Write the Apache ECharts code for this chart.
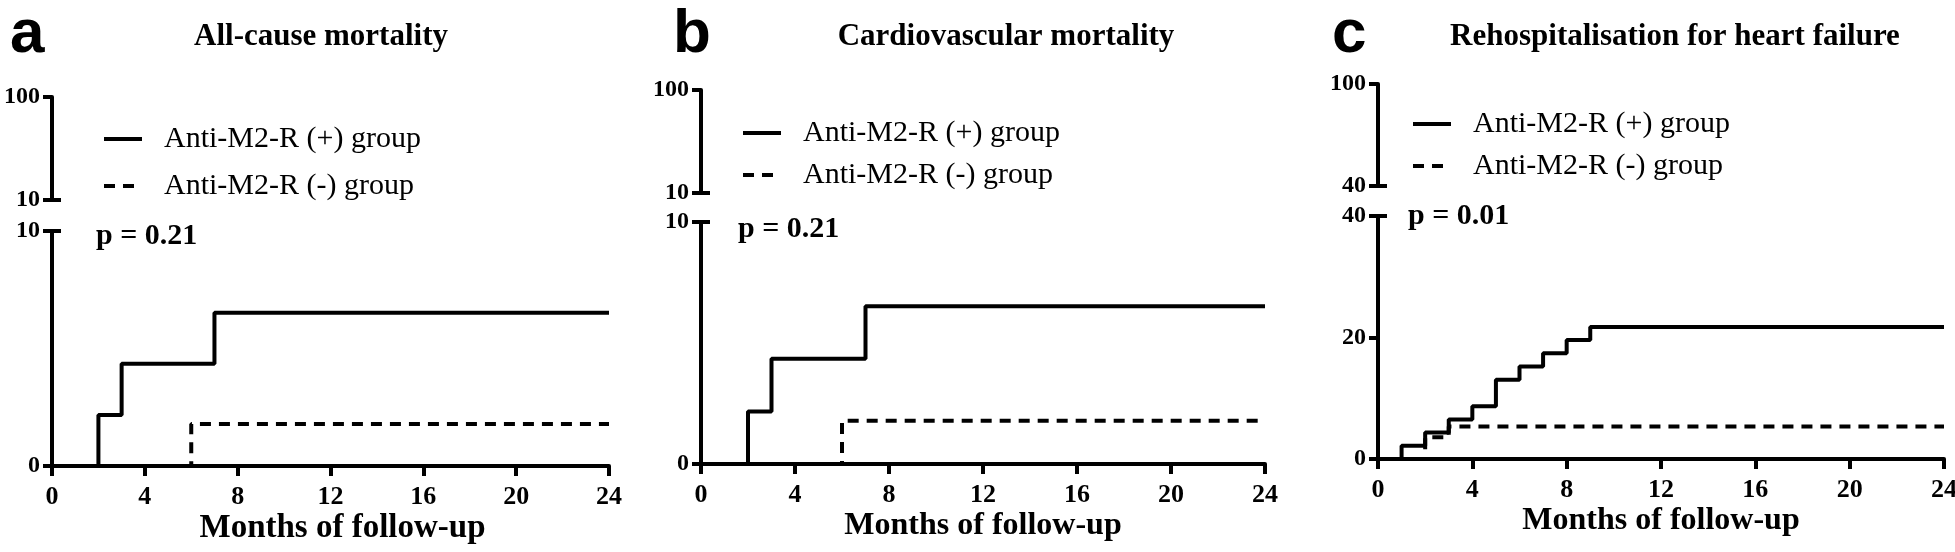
<!DOCTYPE html>
<html><head><meta charset="utf-8">
<script src="https://cdn.jsdelivr.net/npm/echarts@6/dist/echarts.min.js"></script>
<style>html,body{margin:0;padding:0;background:#fff}#c{width:1955px;height:552px}</style>
</head><body><div id="c"></div>
<script>
// ---- data ----
const xTicks = [0, 4, 8, 12, 16, 20, 24];
const seriesNames = ['Anti-M2-R (+) group', 'Anti-M2-R (-) group'];
const allCausePos = [[0, 0], [2, 2.17], [3, 4.35], [7, 6.52], [24, 6.52]];
const allCauseNeg = [[0, 0], [6, 1.79], [24, 1.79]];
const cvPos = [[0, 0], [2, 2.17], [3, 4.35], [7, 6.52], [24, 6.52]];
const cvNeg = [[0, 0], [6, 1.79], [24, 1.79]];
const hfPos = [[0, 0], [1, 2.17], [2, 4.35], [3, 6.52], [4, 8.70], [5, 13.04], [6, 15.22], [7, 17.39], [8, 19.57], [9, 21.74], [24, 21.74]];
const hfNeg = [[0, 0], [2, 3.57], [3, 5.36], [24, 5.36]];
const panelLetters = ['a', 'b', 'c'];
const panelTitles = ['All-cause mortality', 'Cardiovascular mortality', 'Rehospitalisation for heart failure'];
const pValues = ['p = 0.21', 'p = 0.21', 'p = 0.01'];
const lowerTicks = [[0, 10], [0, 10], [0, 20, 40]];
const lowerCrossTicks = [[0, 10], [0, 10], [0, 40]];
const upperTicks = [[10, 100], [10, 100], [40, 100]];
const upperCrossTicks = [[10], [10], [40]];
const xName = 'Months of follow-up';

// ---- layout ----
const panels = [
  {left: 52, width: 557, upTop: 97, upH: 103, loTop: 231, loH: 235, letterX: 10, titleCX: 321, legX: 97, legY: 119, legGap: 17, pX: 96, pY: 236, nameFs: 33, namePad: 24},
  {left: 701, width: 564, upTop: 90, upH: 103, loTop: 222, loH: 242, letterX: 673, titleCX: 1006, legX: 736, legY: 113, legGap: 12, pX: 738, pY: 229, nameFs: 32, namePad: 0},
  {left: 1378, width: 566, upTop: 84, upH: 102, loTop: 216, loH: 243, letterX: 1332, titleCX: 1675, legX: 1406, legY: 104, legGap: 12, pX: 1408, pY: 216, nameFs: 32, namePad: 0}
];
const dataSets = [[allCausePos, allCauseNeg], [cvPos, cvNeg], [hfPos, hfNeg]];

const SERIF = '"Liberation Serif", "Times New Roman", serif';
const SANS = '"Liberation Sans", Arial, sans-serif';
const LW = 4;

const grid = [], xAxis = [], yAxis = [], series = [], legend = [], graphic = [];
panels.forEach((p, i) => {
  const gUp = grid.length;
  grid.push({left: p.left, top: p.upTop, width: p.width, height: p.upH, containLabel: false, outerBoundsMode: 'none'});
  const gLo = grid.length;
  grid.push({left: p.left, top: p.loTop, width: p.width, height: p.loH, containLabel: false, outerBoundsMode: 'none'});

  const lo = lowerTicks[i], up = upperTicks[i];
  // upper (empty) segment of the broken axis
  xAxis.push({type: 'value', gridIndex: gUp, min: 0, max: 24, show: false});
  yAxis.push({type: 'value', gridIndex: gUp, position: 'left', min: up[0], max: up[up.length - 1],
    axisLine: {show: true, lineStyle: {color: '#000', width: LW}},
    axisTick: {show: true, length: 9, lineStyle: {color: '#000', width: LW}, customValues: up},
    axisLabel: {show: true, color: '#000', fontFamily: SERIF, fontWeight: 'bold', fontSize: 24, margin: 12, customValues: up},
    splitLine: {show: false}});
  yAxis.push({type: 'value', gridIndex: gUp, position: 'left', offset: 0, min: up[0], max: up[up.length - 1],
    axisLine: {show: false},
    axisTick: {show: true, inside: true, length: 9, lineStyle: {color: '#000', width: LW}, customValues: upperCrossTicks[i]},
    axisLabel: {show: false}, splitLine: {show: false}});
  // lower segment with the curves
  xAxis.push({type: 'value', gridIndex: gLo, min: 0, max: 24, interval: 4,
    name: xName, nameLocation: 'middle', nameGap: 46,
    nameTextStyle: {color: '#000', fontFamily: SERIF, fontWeight: 'bold', fontSize: p.nameFs, padding: [0, 0, 0, p.namePad]},
    axisLine: {show: true, onZero: false, lineStyle: {color: '#000', width: LW}},
    axisTick: {show: true, length: 10, lineStyle: {color: '#000', width: LW}, customValues: xTicks},
    axisLabel: {show: true, color: '#000', fontFamily: SERIF, fontWeight: 'bold', fontSize: 26, margin: 18, customValues: xTicks},
    splitLine: {show: false}});
  const yLoIdx = yAxis.length;
  yAxis.push({type: 'value', gridIndex: gLo, position: 'left', min: lo[0], max: lo[lo.length - 1],
    axisLine: {show: true, lineStyle: {color: '#000', width: LW}},
    axisTick: {show: true, length: 9, lineStyle: {color: '#000', width: LW}, customValues: lo},
    axisLabel: {show: true, color: '#000', fontFamily: SERIF, fontWeight: 'bold', fontSize: 24, margin: 12, customValues: lo},
    splitLine: {show: false}});
  yAxis.push({type: 'value', gridIndex: gLo, position: 'left', offset: 0, min: lo[0], max: lo[lo.length - 1],
    axisLine: {show: false},
    axisTick: {show: true, inside: true, length: 9, lineStyle: {color: '#000', width: LW}, customValues: lowerCrossTicks[i]},
    axisLabel: {show: false}, splitLine: {show: false}});
  const xLoIdx = xAxis.length - 1;

  series.push({type: 'line', name: seriesNames[0], step: 'end', symbol: 'none', xAxisIndex: xLoIdx, yAxisIndex: yLoIdx,
    data: dataSets[i][0], lineStyle: {color: '#000', width: LW, type: 'solid'}, itemStyle: {color: '#000'}, z: 3});
  series.push({type: 'line', name: seriesNames[1], step: 'end', symbol: 'none', xAxisIndex: xLoIdx, yAxisIndex: yLoIdx,
    data: dataSets[i][1], lineStyle: {color: '#000', width: LW, type: [11, 8]}, itemStyle: {color: '#000'}, z: 2});

  legend.push({left: p.legX, top: p.legY, orient: 'vertical', itemWidth: 38, itemHeight: 14, itemGap: p.legGap,
    selectedMode: false, data: seriesNames,
    itemStyle: {opacity: 0, borderWidth: 0},
    lineStyle: {width: LW, color: '#000'},
    textStyle: {color: '#000', fontFamily: SERIF, fontSize: 30, padding: [0, 0, 0, 17]}});

  graphic.push({type: 'text', x: p.letterX, y: 4, style: {text: panelLetters[i], font: 'bold 62px ' + SANS, fill: '#000'}});
  graphic.push({type: 'text', x: p.titleCX, y: 37, style: {text: panelTitles[i], font: 'bold 31px ' + SERIF, fill: '#000', textAlign: 'center', textVerticalAlign: 'middle'}});
  graphic.push({type: 'text', x: p.pX, y: p.pY, style: {text: pValues[i], font: 'bold 30px ' + SERIF, fill: '#000', textVerticalAlign: 'middle'}});
});

const chart = echarts.init(document.getElementById('c'), null, {renderer: 'canvas'});
chart.setOption({backgroundColor: '#fff', animation: false, grid, xAxis, yAxis, series, legend, graphic});
</script></body></html>
